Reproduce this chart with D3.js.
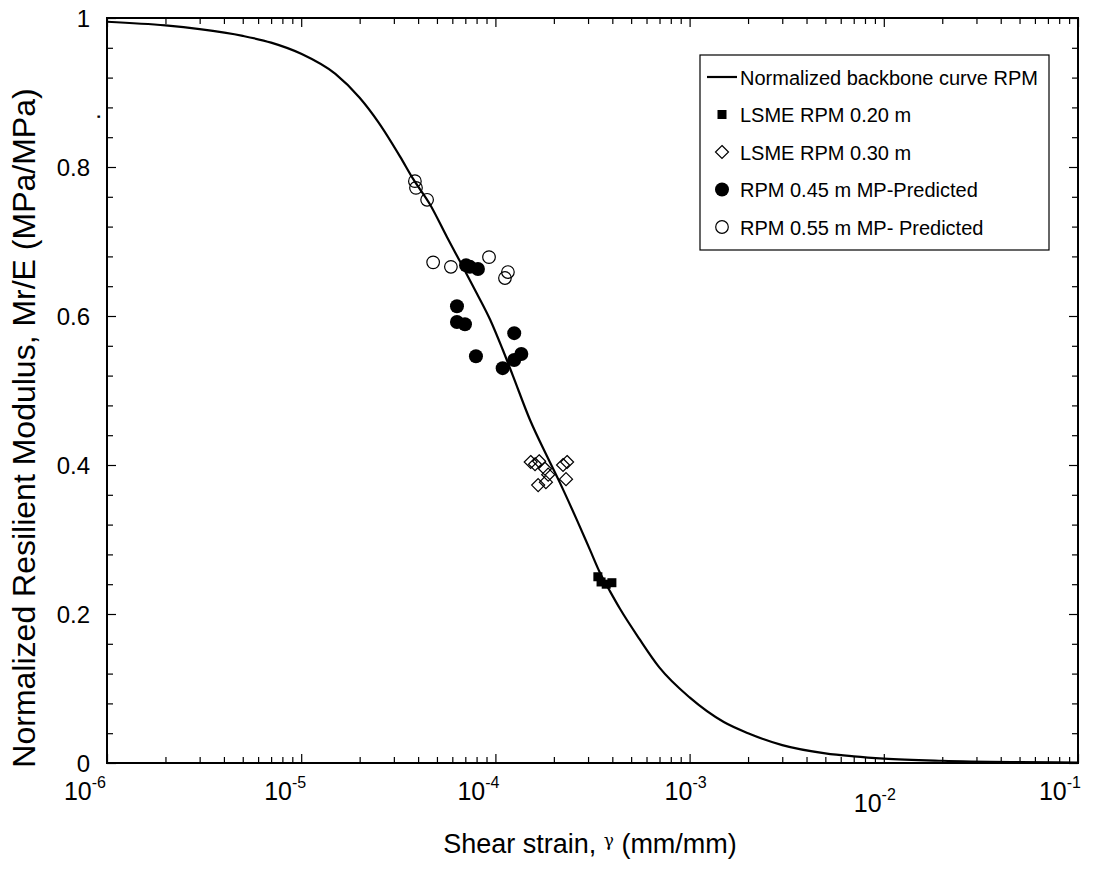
<!DOCTYPE html>
<meta charset="utf-8">
<style>
body { margin: 0; background: #fff; }
svg { font-family: "Liberation Sans", Arial, sans-serif; }
.tick line { stroke: #000; stroke-width: 1.2; }
</style>
<svg width="1093" height="872"></svg>
<script src="https://d3js.org/d3.v7.min.js"></script>
<script>

// backbone curve
var curveStrain = [1e-6, 2e-6, 3e-6, 5e-6, 7e-6, 1e-5, 1.5e-5, 2e-5, 2.5e-5, 3.23e-5, 3.77e-5, 4.6e-5,
  5.63e-5, 6.8e-5, 8.0e-5, 9.4e-5, 1.09e-4, 1.23e-4, 1.51e-4, 1.85e-4, 2.15e-4, 2.63e-4, 3.07e-4,
  3.46e-4, 3.9e-4, 4.38e-4, 5.5e-4, 7e-4, 1e-3, 1.5e-3, 2e-3, 3e-3, 5e-3, 7e-3, 1e-2, 2e-2, 5e-2, 1e-1];
var curveMr = [0.995, 0.990, 0.985, 0.976, 0.967, 0.952, 0.925, 0.893, 0.860, 0.814, 0.784, 0.750,
  0.706, 0.666, 0.631, 0.595, 0.555, 0.520, 0.460, 0.411, 0.376, 0.326, 0.286,
  0.255, 0.230, 0.207, 0.167, 0.128, 0.088, 0.055, 0.040, 0.024, 0.013, 0.009, 0.006, 0.003, 0.0012, 0.0005];

var lsme20Strain = [3.37e-4, 3.50e-4, 3.72e-4, 3.98e-4];
var lsme20Mr = [0.250, 0.243, 0.240, 0.242];

var lsme30Strain = [1.52e-4, 1.60e-4, 1.68e-4, 1.80e-4, 1.87e-4, 1.66e-4, 1.82e-4, 2.23e-4, 2.34e-4, 2.31e-4];
var lsme30Mr = [0.404, 0.401, 0.405, 0.395, 0.387, 0.373, 0.377, 0.400, 0.404, 0.381];

var rpm45Strain = [7.06e-5, 7.39e-5, 8.13e-5, 6.34e-5, 6.34e-5, 6.97e-5, 7.94e-5, 1.25e-4, 1.09e-4, 1.25e-4, 1.36e-4];
var rpm45Mr = [0.668, 0.666, 0.663, 0.613, 0.592, 0.589, 0.546, 0.577, 0.530, 0.541, 0.549];

var rpm55Strain = [3.85e-5, 3.90e-5, 4.45e-5, 4.78e-5, 5.9e-5, 9.27e-5, 1.16e-4, 1.12e-4];
var rpm55Mr = [0.781, 0.772, 0.756, 0.672, 0.666, 0.679, 0.659, 0.651];

var xMajor = [1e-6, 1e-5, 1e-4, 1e-3, 1e-2, 1e-1];
var xExp = ["-6", "-5", "-4", "-3", "-2", "-1"];
var yMajor = [0, 0.2, 0.4, 0.6, 0.8, 1];

var legendNames = ["Normalized backbone curve RPM", "LSME RPM 0.20 m", "LSME RPM 0.30 m",
  "RPM 0.45 m MP-Predicted", "RPM 0.55 m MP- Predicted"];

var svg = d3.select("svg");
var pLeft = 107, pRight = 1078, pTop = 18, pBottom = 763;

var x = d3.scaleLog().domain([1e-6, 1e-1]).range([pLeft, pRight]);
var y = d3.scaleLinear().domain([0, 1]).range([pBottom, pTop]);

// minor ticks
var xMinor = [];
for (var e = -6; e < -1; e++)
  for (var k = 2; k <= 9; k++) xMinor.push(k * Math.pow(10, e));
var yMinor = d3.range(0, 1.0001, 0.04).map(function(d) { return +d.toFixed(2); })
  .filter(function(d) { return yMajor.indexOf(d) < 0; });

function addAxis(axis, tr) {
  var g = svg.append("g").attr("transform", tr).call(axis);
  g.select(".domain").remove();
  return g;
}
addAxis(d3.axisBottom(x).tickValues(xMinor).tickSize(-6).tickFormat(""), "translate(0," + pBottom + ")");
addAxis(d3.axisBottom(x).tickValues(xMajor).tickSize(-9).tickFormat(""), "translate(0," + pBottom + ")");
addAxis(d3.axisTop(x).tickValues(xMinor).tickSize(-6).tickFormat(""), "translate(0," + pTop + ")");
addAxis(d3.axisTop(x).tickValues(xMajor).tickSize(-9).tickFormat(""), "translate(0," + pTop + ")");
addAxis(d3.axisLeft(y).tickValues(yMinor).tickSize(-6).tickFormat(""), "translate(" + pLeft + ",0)");
addAxis(d3.axisLeft(y).tickValues(yMajor).tickSize(-9).tickFormat(""), "translate(" + pLeft + ",0)");
addAxis(d3.axisRight(y).tickValues(yMinor).tickSize(-6).tickFormat(""), "translate(" + pRight + ",0)");
addAxis(d3.axisRight(y).tickValues(yMajor).tickSize(-9).tickFormat(""), "translate(" + pRight + ",0)");

// y tick labels
svg.append("g").selectAll("text").data(yMajor).enter().append("text")
  .attr("x", 90).attr("y", function(d) { return y(d) + 9; })
  .attr("text-anchor", "end").attr("font-size", 24)
  .text(d3.format("~g"));

// x tick labels (excel placed them a bit irregularly)
var xNudge = [-22, -16, -17, -4, -9, -18];
var xDrop = [0, 0, 0, 0, 12, 0];
var xl = svg.append("g").selectAll("text").data(xMajor).enter().append("text")
  .attr("x", function(d, i) { return x(d) + xNudge[i]; })
  .attr("y", function(d, i) { return 800 + xDrop[i]; })
  .attr("text-anchor", "middle").attr("font-size", 25);
xl.append("tspan").text("10");
xl.append("tspan").attr("font-size", 16).attr("dy", -12).text(function(d, i) { return xExp[i]; });

// clip + curve
svg.append("clipPath").attr("id", "clip").append("rect")
  .attr("x", pLeft).attr("y", pTop).attr("width", pRight - pLeft).attr("height", pBottom - pTop);

var line = d3.line()
  .x(function(d) { return x(d[0]); })
  .y(function(d) { return y(d[1]); })
  .curve(d3.curveMonotoneX);

svg.append("path")
  .datum(curveStrain.map(function(s, i) { return [s, curveMr[i]]; }))
  .attr("clip-path", "url(#clip)")
  .attr("fill", "none").attr("stroke", "#000").attr("stroke-width", 2.2)
  .attr("d", line);

function pairs(sx, sy) { return sx.map(function(s, i) { return [s, sy[i]]; }); }

// markers
function drawMarker(g, type) {
  if (type === "square") {
    g.append("rect").attr("x", -4.5).attr("y", -4.5).attr("width", 9).attr("height", 9).attr("fill", "#000");
  } else if (type === "diamond") {
    g.append("path").attr("d", "M0,-6.5L6.5,0L0,6.5L-6.5,0Z")
      .attr("fill", "none").attr("stroke", "#000").attr("stroke-width", 1.2);
  } else if (type === "dot") {
    g.append("circle").attr("r", 7).attr("fill", "#000");
  } else if (type === "ring") {
    g.append("circle").attr("r", 6.3).attr("fill", "none").attr("stroke", "#000").attr("stroke-width", 1.2);
  }
}

function drawSeries(data, type) {
  svg.append("g").selectAll("g").data(data).enter().append("g")
    .attr("transform", function(d) { return "translate(" + x(d[0]) + "," + y(d[1]) + ")"; })
    .each(function() { drawMarker(d3.select(this), type); });
}
drawSeries(pairs(rpm55Strain, rpm55Mr), "ring");
drawSeries(pairs(rpm45Strain, rpm45Mr), "dot");
drawSeries(pairs(lsme30Strain, lsme30Mr), "diamond");
drawSeries(pairs(lsme20Strain, lsme20Mr), "square");

// frame
svg.append("rect").attr("x", pLeft).attr("y", pTop)
  .attr("width", pRight - pLeft).attr("height", pBottom - pTop)
  .attr("fill", "none").attr("stroke", "#000").attr("stroke-width", 2);

// axis titles
var xt = svg.append("text").attr("x", 590).attr("y", 853).attr("text-anchor", "middle").attr("font-size", 27);
xt.append("tspan").text("Shear strain, ");
xt.append("tspan").attr("font-size", 17).attr("dy", -7).attr("font-family", "DejaVu Serif").text("\u03b3");
xt.append("tspan").attr("dy", 7).text(" (mm/mm)");

svg.append("text").attr("transform", "translate(35,428) rotate(-90)")
  .attr("text-anchor", "middle").attr("font-size", 32)
  .text("Normalized Resilient Modulus, Mr/E  (MPa/MPa)");
svg.append("text").attr("transform", "translate(100,120) rotate(-90)")
  .attr("font-size", 24).text(".");

// legend
var lg = svg.append("g");
lg.append("rect").attr("x", 700).attr("y", 55).attr("width", 349).attr("height", 195)
  .attr("fill", "#fff").attr("stroke", "#000").attr("stroke-width", 1.2);
var types = ["line", "square", "diamond", "dot", "ring"];
legendNames.forEach(function(name, i) {
  var cy = 77 + i * 37.5;
  var item = lg.append("g").attr("transform", "translate(0," + cy + ")");
  if (types[i] === "line") {
    item.append("line").attr("x1", 707).attr("x2", 737).attr("stroke", "#000").attr("stroke-width", 2.2);
  } else {
    drawMarker(item.append("g").attr("transform", "translate(722,0)"), types[i]);
  }
  item.append("text").attr("x", 740).attr("y", 7.5).attr("font-size", 20).text(name);
});

</script>
